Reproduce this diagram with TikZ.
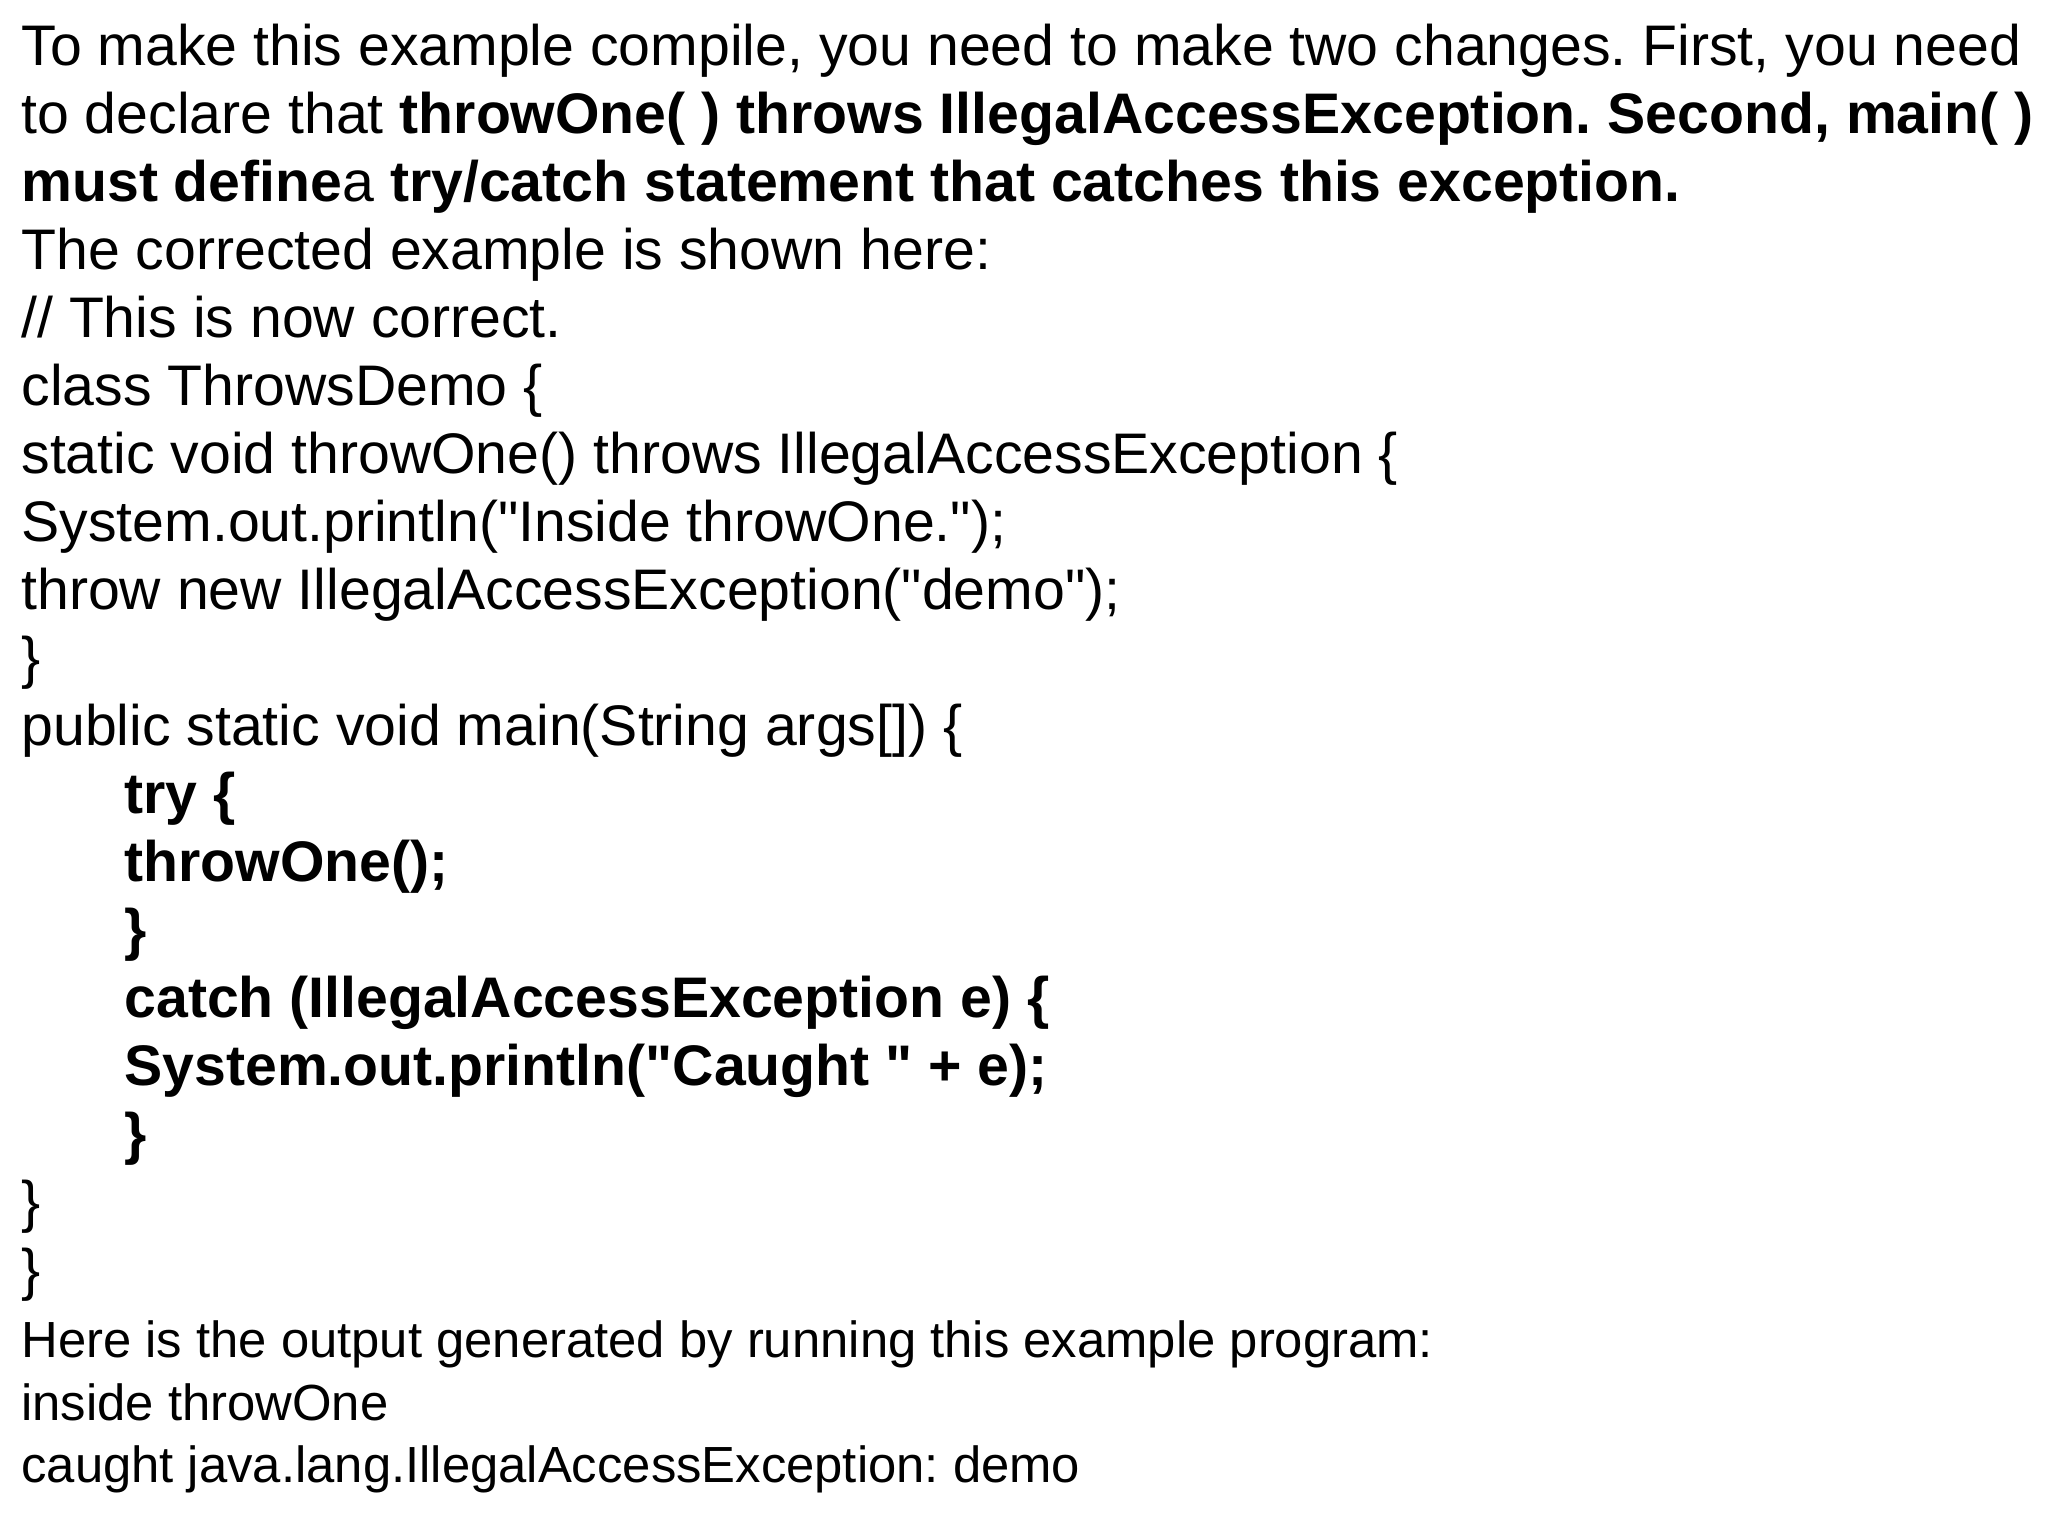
\documentclass[tikz,border=0pt]{standalone}
\usepackage{fontspec}
\setmainfont{Liberation Sans}[Ligatures=TeXOff]
\frenchspacing
\begin{document}
\begin{tikzpicture}[x=1pt,y=1pt,
  ln/.style={anchor=base west,inner sep=0pt,font=\fontsize{28.6}{32}\selectfont\frenchspacing},
  sm/.style={anchor=base west,inner sep=0pt,font=\fontsize{25.4}{30}\selectfont\frenchspacing}]
\useasboundingbox[fill=white] (0,0) rectangle (1024,-768);
\def\L#1{-32.7-34*#1}
\node[ln] (l0) at (10.5,{\L{0}}) {To make this example compile, you need to make two changes. First, you need};
\node[ln] (l1) at (10.5,{\L{1}}) {to declare that \textbf{throwOne( ) throws IllegalAccessException. Second, main( )}};
\node[ln] (l2) at (10.5,{\L{2}}) {\textbf{must define}a \textbf{try/catch statement that catches this exception.}};
\node[ln] (l3) at (10.5,{\L{3}}) {The corrected example is shown here:};
\node[ln] (l4) at (10.5,{\L{4}}) {// This is now correct.};
\node[ln] (l5) at (10.5,{\L{5}}) {class ThrowsDemo \{};
\node[ln] (l6) at (10.5,{\L{6}}) {static void throwOne() throws IllegalAccessException \{};
\node[ln] (l7) at (10.5,{\L{7}}) {System.out.println("Inside throwOne.");};
\node[ln] (l8) at (10.5,{\L{8}}) {throw new IllegalAccessException("demo");};
\node[ln] (l9) at (10.5,{\L{9}}) {\}};
\node[ln] (l10) at (10.5,{\L{10}}) {public static void main(String args[]) \{};
\node[ln] (l11) at (62,{\L{11}}) {\textbf{try \{}};
\node[ln] (l12) at (62,{\L{12}}) {\textbf{throwOne();}};
\node[ln] (l13) at (62,{\L{13}}) {\textbf{\}}};
\node[ln] (l14) at (62,{\L{14}}) {\textbf{catch (IllegalAccessException e) \{}};
\node[ln] (l15) at (62,{\L{15}}) {\textbf{System.out.println("Caught " + e);}};
\node[ln] (l16) at (62,{\L{16}}) {\textbf{\}}};
\node[ln] (l17) at (10.5,{\L{17}}) {\}};
\node[ln] (l18) at (10.5,{\L{18}}) {\}};
\node[sm] (l19) at (10.5,{\L{19}}) {Here is the output generated by running this example program:};
\node[sm] (l20) at (10.5,{\L{19}-31.3}) {inside throwOne};
\node[sm] (l21) at (10.5,{\L{19}-62.6}) {caught java.lang.IllegalAccessException: demo};
\end{tikzpicture}
\end{document}
